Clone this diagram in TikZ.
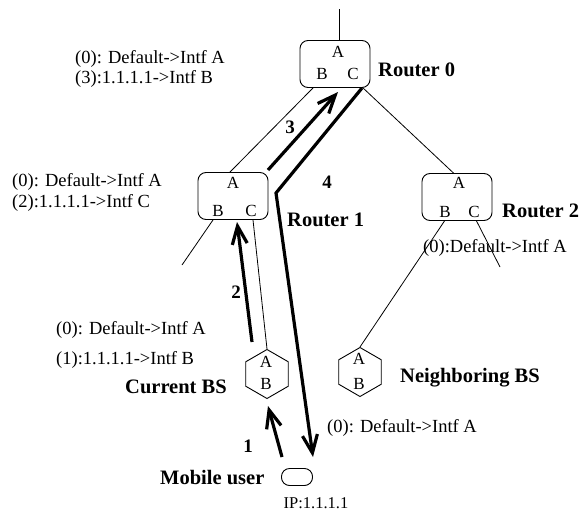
\documentclass[tikz,border=0pt]{standalone}
\usepackage{fontspec}
\setmainfont{Liberation Serif}
\usetikzlibrary{shapes.geometric,arrows.meta}
\tikzset{router/.style={draw, rounded corners=8pt, minimum width=70pt, minimum height=47pt, line width=0.9pt},
	bs/.style={draw, regular polygon, regular polygon sides=6, shape border rotate=30, minimum size=49pt, inner sep=0pt, line width=0.9pt},
	user/.style={draw, rounded corners=8pt, minimum width=31pt, minimum height=17pt, inner sep=0pt, line width=0.9pt},
	intf/.style={font=\fontsize{17}{17}\selectfont, inner sep=0pt},
	tbl/.style={font=\fontsize{18.5}{18.5}\selectfont, anchor=west, inner sep=0pt},
	title/.style={font=\fontsize{20.5}{20.5}\selectfont\bfseries, anchor=west, inner sep=0pt},
	num/.style={font=\fontsize{19}{19}\selectfont\bfseries, inner sep=0pt},
	link/.style={line width=0.8pt},
	flow/.style={line width=3.2pt, -{Straight Barb[length=18pt,width=15pt]}}}

\begin{document}
\begin{tikzpicture}[x=1pt,y=-1pt]
		\useasboundingbox (0,0) rectangle (583,514);
		% routers
		\node[router] (r0) at (335,64){};
		\node[intf] (r0a) at (338,52){A};
		\node[intf] (r0b) at (322,74){B};
		\node[intf] (r0c) at (353,74){C};
		\node[router] (r1) at (233,196){};
		\node[intf] (r1a) at (233,183){A};
		\node[intf] (r1b) at (218,211){B};
		\node[intf] (r1c) at (251,211){C};
		\node[router] (r2) at (457,197){};
		\node[intf] (r2a) at (459,183){A};
		\node[intf] (r2b) at (445,212){B};
		\node[intf] (r2c) at (474,212){C};
		% base stations and user
		\node[bs] (cbs) at (267,374){};
		\node[intf] (cbsa) at (266,362){A};
		\node[intf] (cbsb) at (266,384){B};
		\node[bs] (nbs) at (360,372){};
		\node[intf] (nbsa) at (359,359){A};
		\node[intf] (nbsb) at (359,384){B};
		\node[user] (mu) at (297,477){};
		\coordinate (up) at (339,9);
		\coordinate (r1out) at (182,265);
		\coordinate (r2out) at (500,267);
		\draw[link] (up) -- ([xshift=4pt]r0.north);
		\draw[link] ([xshift=-22pt]r0.south) -- ([xshift=-3pt]r1.north);
		\draw[link] ([xshift=28pt]r0.south) -- ([xshift=-3.5pt]r2.north);
		\draw[link] ([xshift=-20pt]r1.south) -- (r1out);
		\draw[link] ([xshift=20pt]r1.south) -- (cbs.north);
		\draw[link] ([xshift=-12.5pt]r2.south) -- (nbs.north);
		\draw[link] ([xshift=19.5pt]r2.south) -- (r2out);
		% message flow
		\coordinate (f1s) at (282,457);
		\coordinate (f1e) at (268,406);
		\coordinate (f2s) at (252,342);
		\coordinate (f2e) at (237,222);
		\coordinate (f3s) at (268,170);
		\coordinate (f3e) at (338,92);
		\coordinate (f4s) at (362,88);
		\coordinate (f4k) at (276,193);
		\coordinate (f4e) at (313,457);
		\draw[flow] (f1s) -- (f1e);
		\draw[flow] (f2s) -- (f2e);
		\draw[flow] (f3s) -- (f3e);
		\draw[flow] (f4s) -- (f4k) -- (f4e);
		\node[num] (n1) at (248,446){1};
		\node[num] (n2) at (236,292){2};
		\node[num] (n3) at (290,127){3};
		\node[num] (n4) at (327,182){4};
		% tables
		\node[tbl] (t0a) at (75,59){(0): Default->Intf A};
		\node[tbl] (t0b) at (75,79){(3):1.1.1.1->Intf B};
		\node[tbl] (t1a) at (12,182){(0): Default->Intf A};
		\node[tbl] (t1b) at (12,203){(2):1.1.1.1->Intf C};
		\node[tbl] (tca) at (56,330){(0): Default->Intf A};
		\node[tbl] (tcb) at (56,360){(1):1.1.1.1->Intf B};
		\node[tbl] (t2a) at (423,248){(0):Default->Intf A};
		\node[tbl] (tma) at (327,428){(0): Default->Intf A};
		\node[tbl, anchor=center, font=\fontsize{16.5}{16.5}\selectfont] (ip) at (316,503){IP:1.1.1.1};
		% names
		\node[title] (l0) at (378,70){Router 0};
		\node[title] (l1) at (287,220){Router 1};
		\node[title] (l2) at (502,211){Router 2};
		\node[title] (lc) at (125,387){Current BS};
		\node[title] (ln) at (400,378){Neighboring BS};
		\node[title] (lm) at (160,478){Mobile user};
		\end{tikzpicture}
\end{document}
